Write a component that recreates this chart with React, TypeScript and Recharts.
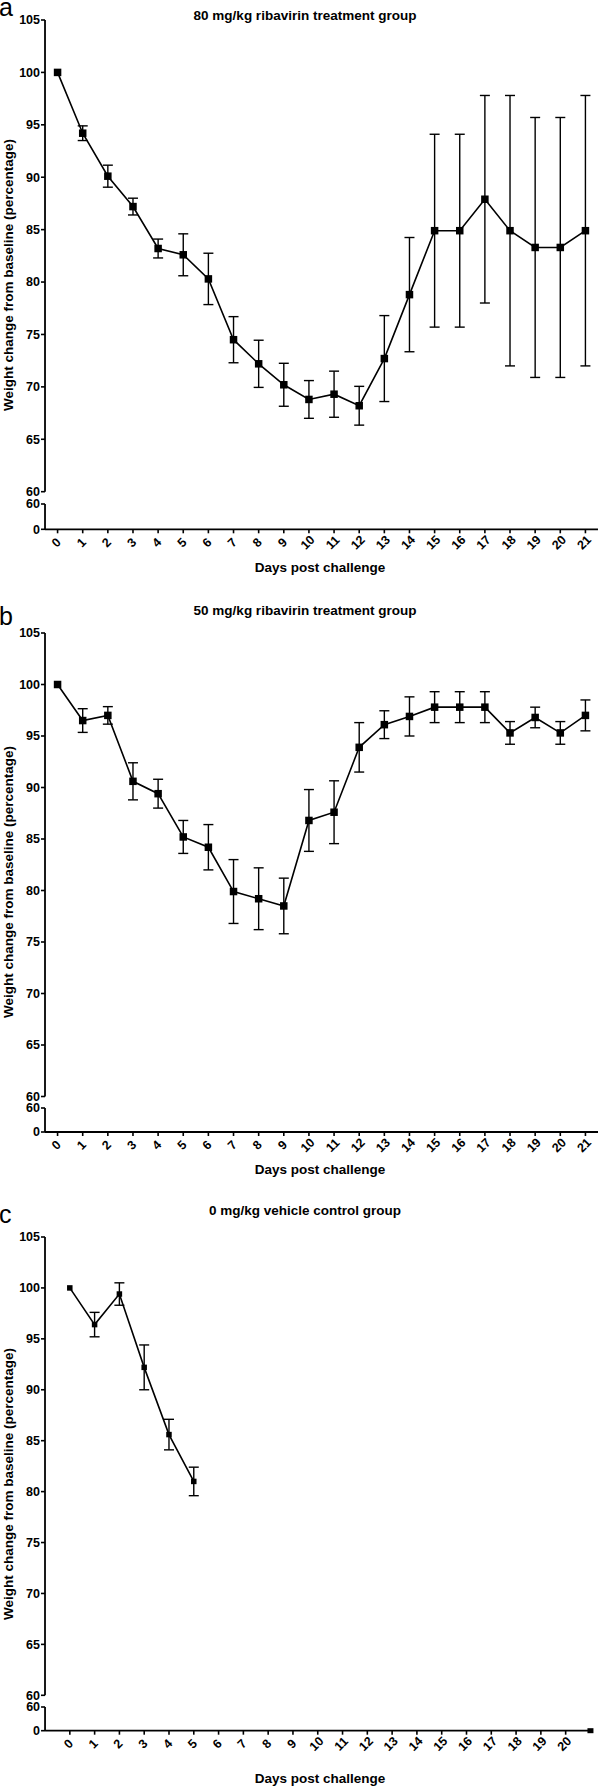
import React from 'react';
import { ComposedChart, Line, Scatter, XAxis, YAxis, ErrorBar, Text } from 'recharts';

const FONT = '"Liberation Sans", Arial, Helvetica, sans-serif';

// days post challenge
const days = [0, 1, 2, 3, 4, 5, 6, 7, 8, 9, 10, 11, 12, 13, 14, 15, 16, 17, 18, 19, 20, 21];
const daysC = [0, 1, 2, 3, 4, 5];
const tickDaysAB = days;
const tickDaysC = days.slice(0, 21);
const upperTicks = [60, 65, 70, 75, 80, 85, 90, 95, 100, 105];
const lowerTicks = [0, 60];

// 80 mg/kg ribavirin
const meanA = [100, 94.2, 90.1, 87.2, 83.2, 82.6, 80.3, 74.5, 72.2, 70.2, 68.8, 69.3, 68.2, 72.7, 78.8, 84.9, 84.9, 87.9, 84.9, 83.3, 83.3, 84.9];
const errA = [0, 0.7, 1.05, 0.8, 0.9, 2.0, 2.45, 2.2, 2.25, 2.05, 1.8, 2.2, 1.85, 4.1, 5.45, 9.2, 9.2, 9.9, 12.9, 12.4, 12.4, 12.9];

// 50 mg/kg ribavirin
const meanB = [100, 96.5, 97.0, 90.6, 89.4, 85.2, 84.2, 79.9, 79.2, 78.5, 86.8, 87.6, 93.9, 96.1, 96.9, 97.8, 97.8, 97.8, 95.3, 96.8, 95.3, 97.0];
const errB = [0, 1.15, 0.85, 1.8, 1.4, 1.6, 2.2, 3.1, 3.0, 2.7, 3.0, 3.05, 2.4, 1.35, 1.9, 1.5, 1.5, 1.5, 1.1, 1.0, 1.1, 1.5];

// 0 mg/kg vehicle
const meanC = [100, 96.4, 99.4, 92.2, 85.6, 81.0];
const errC = [0, 1.2, 1.1, 2.2, 1.5, 1.4];
const finalDayC = [21];
const finalMeanC = [0];

const toRows = (d: number[], m: number[], e: number[]) => d.map((day, i) => ({ day, mean: m[i], err: e[i] }));

const squareDot = (size: number) => (props: any) => {
  const { cx, cy, index } = props;
  if (cx == null || cy == null) return <g key={`n${index}`} />;
  return <rect key={`s${index}`} x={cx - size / 2} y={cy - size / 2} width={size} height={size} fill="#000" />;
};

// rotated day labels under the axis
const XTick = (props: any) => {
  const { x, y, payload } = props;
  return (
    <Text
      x={x - 1.5}
      y={y + 7}
      angle={-45}
      textAnchor="middle"
      verticalAnchor="middle"
      fontSize={12.5}
      fontWeight={700}
      fontFamily={FONT}
      fill="#000"
    >
      {String(payload.value)}
    </Text>
  );
};

const axisLine = { stroke: '#000', strokeWidth: 1.8 };
const tickLine = { stroke: '#000', strokeWidth: 1.6 };
const yTick = { fill: '#000', fontSize: 12.5, fontWeight: 700, fontFamily: FONT };

interface PanelProps {
  letter: string;
  letterBase: number;
  title: string;
  rows: { day: number; mean: number; err: number }[];
  tail?: { day: number; mean: number }[];
  y105: number;
  y60: number;
  low60: number;
  low0: number;
  titleY: number;
  xTitleY: number;
  domain: [number, number];
  plotRight: number;
  ticks: number[];
  dot: number;
}

const Panel: React.FC<PanelProps> = (p) => {
  const upperH = p.y60 - p.y105 + 20;
  const lowH = p.low0 - p.low60;
  const right = 600 - p.plotRight;
  const clipLow = !p.tail;
  const text: React.CSSProperties = { position: 'absolute', fontFamily: FONT, fontWeight: 700, color: '#000', whiteSpace: 'nowrap' };
  return (
    <>
      <div style={{ position: 'absolute', left: -1, top: p.letterBase - 15.6, fontFamily: FONT, fontSize: 25, lineHeight: '14px' }}>{p.letter}</div>
      <div style={{ ...text, left: 305, top: p.titleY, fontSize: 13.5, transform: 'translate(-50%, -50%)' }}>{p.title}</div>
      <div style={{ ...text, left: 7.5, top: (p.y105 + p.low0) / 2, fontSize: 13.5, transform: 'translate(-50%, -50%) rotate(-90deg)' }}>
        Weight change from baseline (percentage)
      </div>
      <div style={{ ...text, left: 320, top: p.xTitleY, fontSize: 13.5, transform: 'translate(-50%, -50%)' }}>Days post challenge</div>

      <div style={{ position: 'absolute', left: 0, top: p.y105 - 10 }}>
        <ComposedChart width={600} height={upperH} data={p.rows} margin={{ top: 10, right, bottom: 10, left: 0 }}>
          <XAxis type="number" dataKey="day" domain={p.domain} hide />
          <YAxis
            type="number"
            domain={[60, 105]}
            ticks={upperTicks}
            interval={0}
            width={45}
            tickSize={4}
            tickMargin={1}
            axisLine={axisLine}
            tickLine={tickLine}
            tick={yTick}
          />
          <Line
            type="linear"
            dataKey="mean"
            stroke="#000"
            strokeWidth={1.6}
            dot={squareDot(p.dot)}
            activeDot={false}
            isAnimationActive={false}
          >
            <ErrorBar dataKey="err" width={5} stroke="#000" strokeWidth={1.4} direction="y" />
          </Line>
        </ComposedChart>
      </div>

      <div style={{ position: 'absolute', left: 0, top: p.low60 - 10 }}>
        <ComposedChart width={600} height={10 + lowH + 40} data={p.tail ?? p.rows} margin={{ top: 10, right, bottom: 0, left: 0 }}>
          <XAxis
            type="number"
            dataKey="day"
            domain={p.domain}
            ticks={p.ticks}
            interval={0}
            height={40}
            tickSize={4}
            tickMargin={2}
            axisLine={axisLine}
            tickLine={tickLine}
            tick={(t: any) => <XTick {...t} />}
          />
          <YAxis
            type="number"
            domain={[0, 60]}
            ticks={lowerTicks}
            interval={0}
            allowDataOverflow={clipLow}
            width={45}
            tickSize={4}
            tickMargin={1}
            axisLine={axisLine}
            tickLine={tickLine}
            tick={yTick}
          />
          {p.tail ? (
            <Scatter
              dataKey="mean"
              fill="#000"
              isAnimationActive={false}
              shape={(s: any) => <rect x={s.cx - 3} y={s.cy - 2.5} width={6} height={5} fill="#000" />}
            />
          ) : (
            <Line dataKey="mean" stroke="none" dot={false} activeDot={false} isAnimationActive={false} />
          )}
        </ComposedChart>
      </div>
    </>
  );
};

export default function App() {
  const tailC = finalDayC.map((day, i) => ({ day, mean: finalMeanC[i] }));
  return (
    <div style={{ position: 'relative', width: 600, height: 1787, background: '#fff', overflow: 'hidden' }}>
      <style>{'body{margin:0}'}</style>
      <Panel
        letter="a"
        letterBase={16}
        title="80 mg/kg ribavirin treatment group"
        rows={toRows(days, meanA, errA)}
        y105={20}
        y60={491.7}
        low60={504}
        low0={529.3}
        titleY={15}
        xTitleY={567}
        domain={[-0.5, 21.5]}
        plotRight={598}
        ticks={tickDaysAB}
        dot={7.5}
      />
      <Panel
        letter="b"
        letterBase={625}
        title="50 mg/kg ribavirin treatment group"
        rows={toRows(days, meanB, errB)}
        y105={632.7}
        y60={1096.2}
        low60={1107.7}
        low0={1131.7}
        titleY={610}
        xTitleY={1169}
        domain={[-0.5, 21.5]}
        plotRight={598}
        ticks={tickDaysAB}
        dot={7.5}
      />
      <Panel
        letter="c"
        letterBase={1223}
        title="0 mg/kg vehicle control group"
        rows={toRows(daysC, meanC, errC)}
        tail={tailC}
        y105={1236.7}
        y60={1695}
        low60={1707.3}
        low0={1731}
        titleY={1210}
        xTitleY={1778}
        domain={[-1, 21]}
        plotRight={590.5}
        ticks={tickDaysC}
        dot={5.5}
      />
    </div>
  );
}
